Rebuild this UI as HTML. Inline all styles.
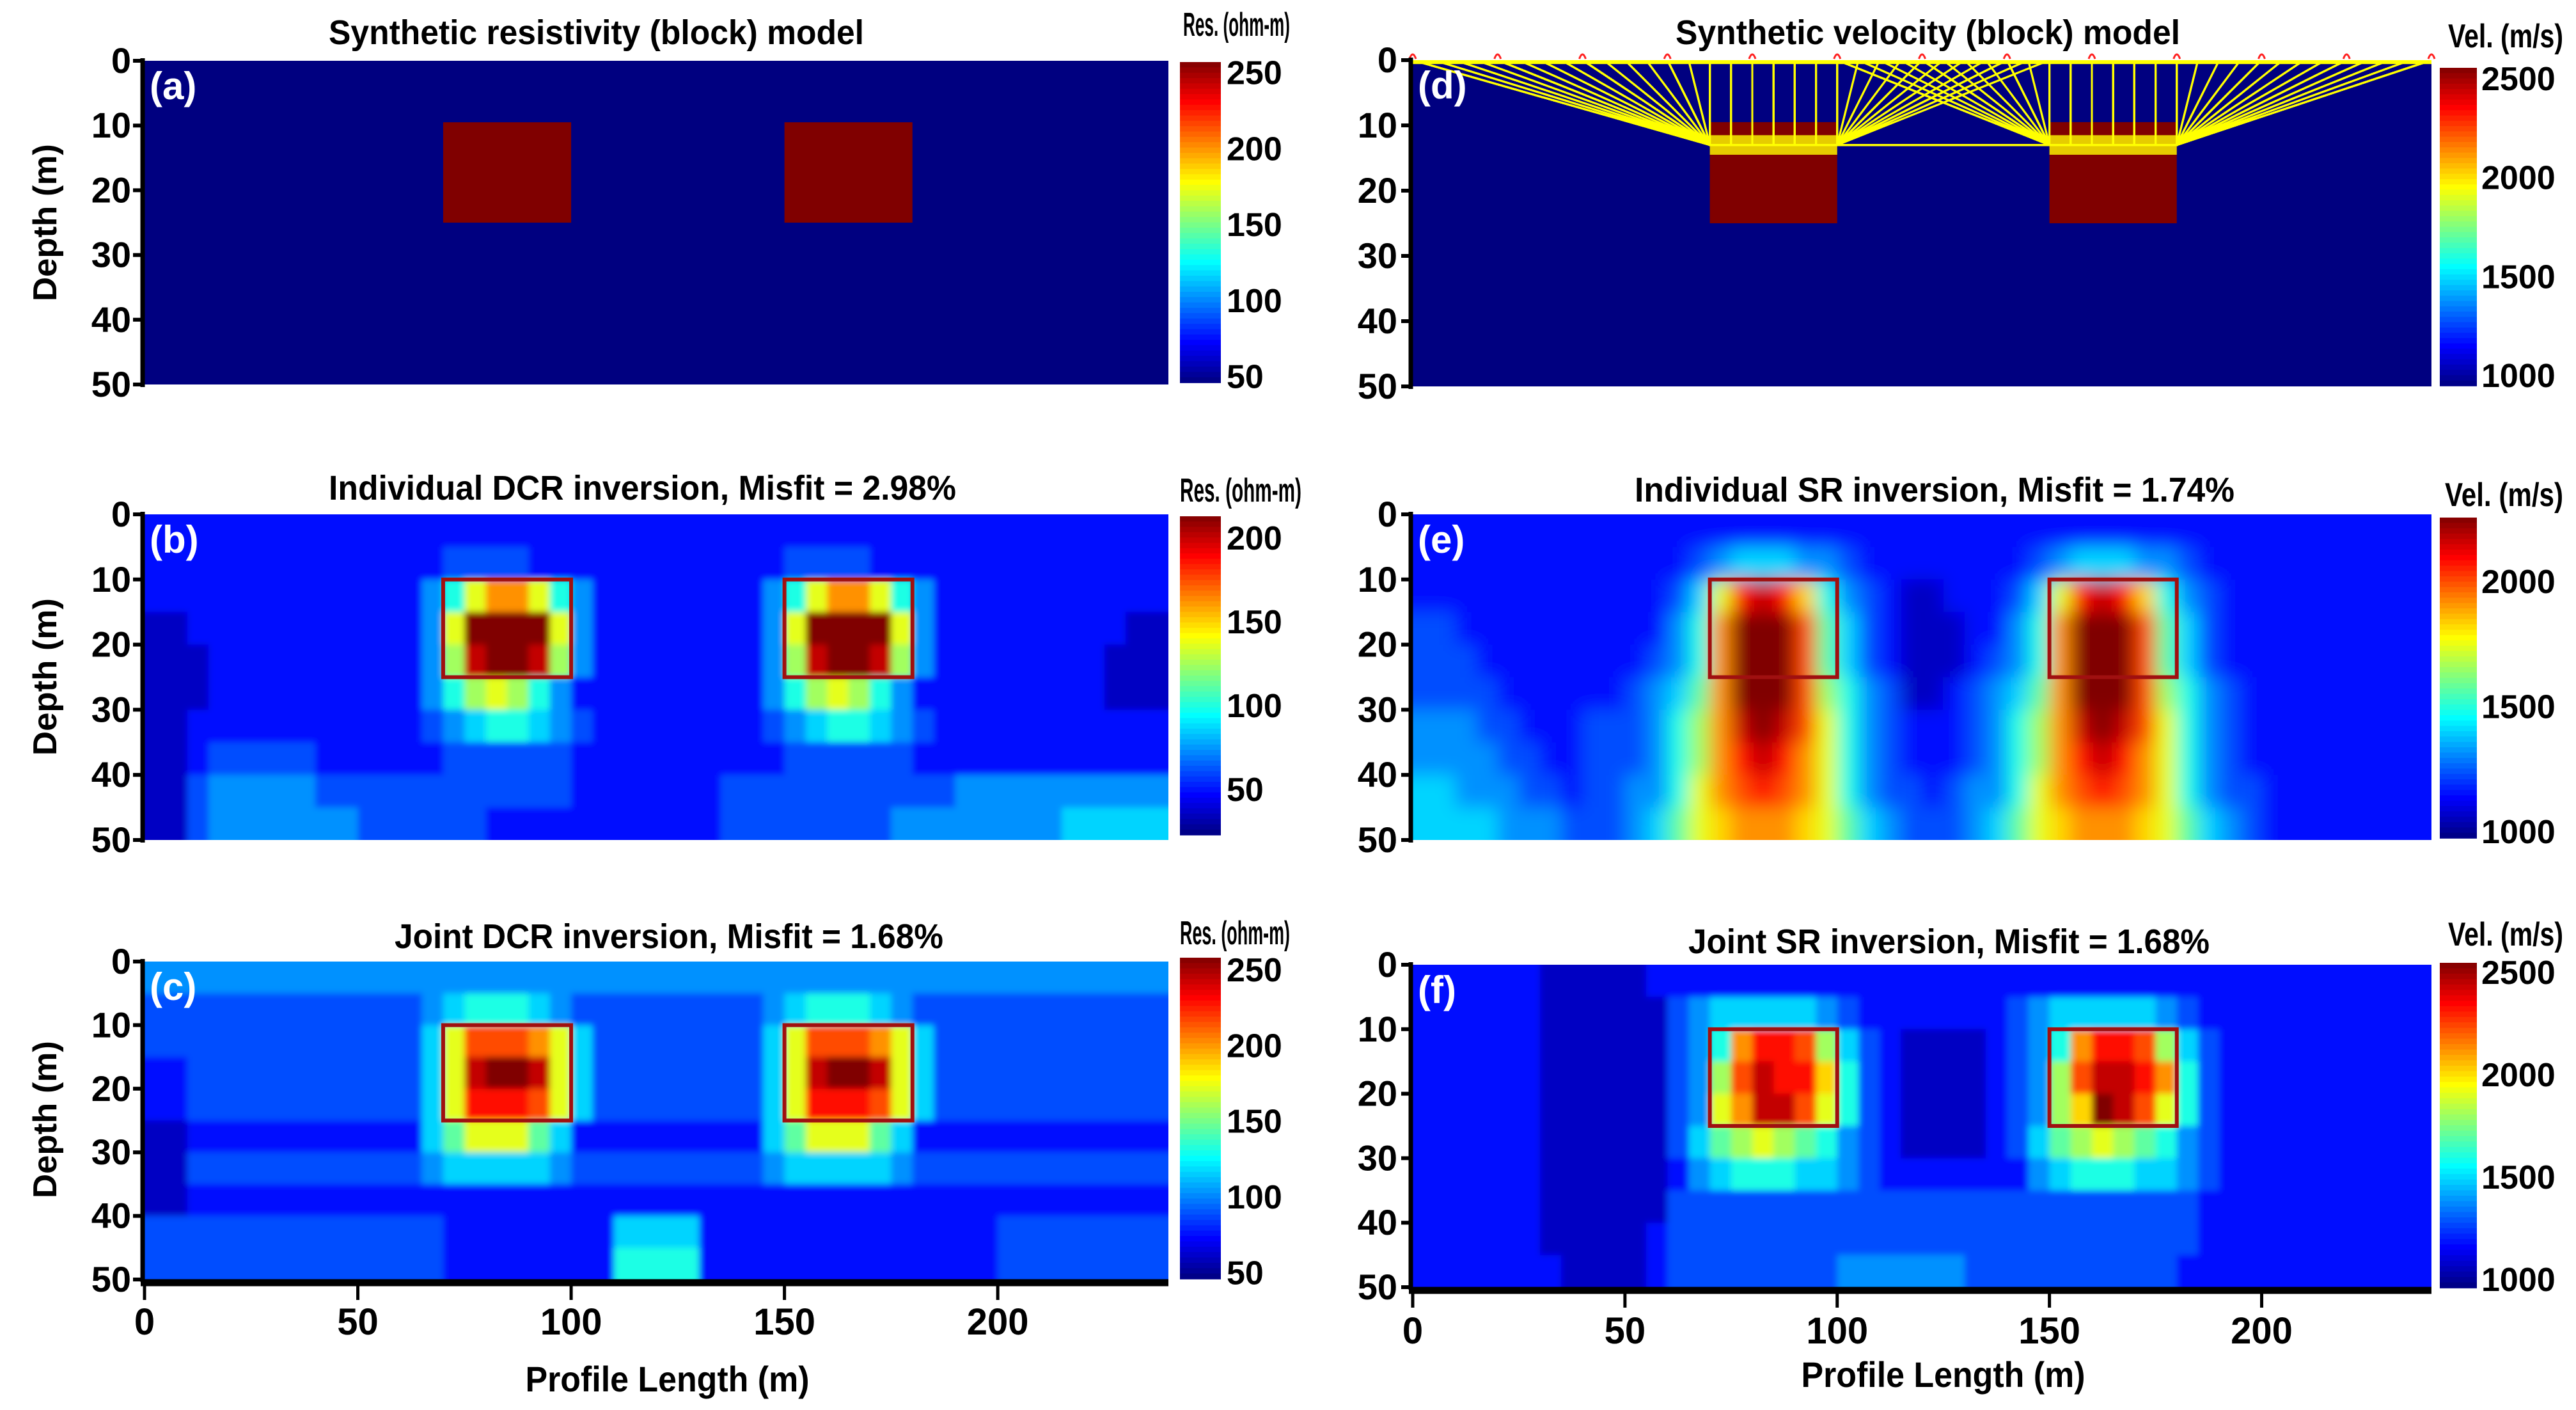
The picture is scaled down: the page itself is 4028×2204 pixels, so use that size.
<!DOCTYPE html>
<html><head><meta charset="utf-8"><style>
html,body{margin:0;padding:0;background:#fff;}
svg{display:block;}
text{font-family:"Liberation Sans Narrow","Liberation Sans",sans-serif;font-weight:bold;}
</style></head><body>
<svg id="fig" xmlns="http://www.w3.org/2000/svg" width="4028" height="2204" viewBox="0 0 4028 2204"></svg>
<script>
// ---------- DATA ----------
const depthTicks=[0,10,20,30,40,50];
const xTicks=[0,50,100,150,200];
const xMax=240, depthMax=50;
const cellWidthM=5, cellDepthM=5;
const blockXs=[[70,100],[150,180]];
const blockDepth=[10,25];
const sourcesM=[0,20,40,60,80,100,120,140,160,180,200,220,240];
const receiversM=[0,5,10,15,20,25,30,35,40,45,50,55,60,65,70,75,80,85,90,95,100,105,110,115,120,125,130,135,140,145,150,155,160,165,170,175,180,185,190,195,200,205,210,215,220,225,230,235,240];
const resTicksA=[50,100,150,200,250];
const resTicksB=[50,100,150,200];
const resTicksC=[50,100,150,200,250];
const velTicksD=[1000,1500,2000,2500];
const velTicksE=[1000,1500,2000];
const velTicksF=[1000,1500,2000,2500];
// heatmap levels (hex digit 0..f = colour scale fraction), rows of 5 m, cols of 5 m
const rowsB=[
"22222222 22222222 22222222 22222222 22222222 22222222",
"22222222 22222233 33222222 22222233 33222222 22222222",
"22222222 22222469 bb964222 22222469 bb964222 22222222",
"11222222 2222249f fff94222 2222249f fff94222 22222211",
"11122222 2222248e ffe84222 2222248e ffe84222 22222111",
"11122222 22222468 98642222 22222468 98642222 22222111",
"11222222 22222345 66543222 22222345 66543222 22222222",
"11233333 22222233 33332222 22222233 33332222 22222222",
"11344444 33333333 33332222 22233333 33333344 44444444",
"11344444 44333333 22222222 22233333 33344444 44455555"];
const rowsC=[
"44444444 44444444 44444444 44444444 44444444 44444444",
"33333333 33333456 66543333 33333456 66543333 33333333",
"33333333 3333359c ccb95333 3333359c ccb95333 33333333",
"22333333 3333359e ffe95333 3333359e ffe95333 33333333",
"22333333 3333359d ddc95333 3333359d ddc95333 33333333",
"11222222 22222579 99752222 22222579 99752222 22222222",
"11333333 33333455 55543333 33333455 55543333 33333333",
"11222222 22222222 22222222 22222222 22222222 22222222",
"33333333 33333322 22222255 55222222 22222222 33333333",
"33333333 33333322 22222266 66222222 22222222 33333333"];
const rowsE=[
"22222222 22222222 22222222 22222222 22222222 22222222",
"22222222 22222345 55443222 22222345 55443222 22222222",
"22222222 2222359d eda64321 1222359d eda64322 22222222",
"33222222 222246bf ffc75321 112246bf ffc75322 22222222",
"33322222 222346bf ffc75321 112346bf ffc75322 22222222",
"33332222 223457bf ffc86431 123457bf ffc86432 22222222",
"44433222 333468be fec96432 223468be fec96432 22222222",
"44443322 333468bd edb96432 223468bd edb96432 22222222",
"55444332 334469bc dcb96433 234469bc dcb96433 22222222",
"55554443 334579ab bba97543 334579ab bba97543 22222222"];
const rowsF=[
"22222211 11122222 22222222 22222222 22222222 22222222",
"22222211 11113455 55543222 22223455 55543222 22222222",
"22222211 1111346b ddc85321 1112346b ddc85322 22222222",
"22222211 1111348c edda6321 1112348c eedb6322 22222222",
"22222211 1111349b eec96321 1112348a fec96322 22222222",
"22222211 11113578 98764321 11123578 98764322 22222222",
"22222211 11112456 66554322 22222456 66554322 22222222",
"22222211 11113333 33333333 33333333 33333222 22222222",
"22222211 11123333 33333333 33333333 33333222 22222222",
"22222221 11123333 33334444 44333333 33332222 22222222"];

// ---------- LAYOUT ----------
const NS="http://www.w3.org/2000/svg";
const svg=document.getElementById('fig');
function el(tag,attrs,parent){const e=document.createElementNS(NS,tag);for(const k in attrs)e.setAttribute(k,attrs[k]);(parent||svg).appendChild(e);return e;}
function jet(t){const c=v=>Math.max(0,Math.min(1,v));const r=c(1.5-Math.abs(4*t-3)),g=c(1.5-Math.abs(4*t-2)),b=c(1.5-Math.abs(4*t-1));return `rgb(${Math.round(r*255)},${Math.round(g*255)},${Math.round(b*255)})`;}
const defs=el('defs',{});
[['blurS',5],['blurL',14]].forEach(([id,s])=>{
  const f=el('filter',{id:id,x:'-5%',y:'-5%',width:'110%',height:'110%'},defs);
  el('feGaussianBlur',{stdDeviation:s,'edgeMode':'duplicate'},f);
});

const L={x0:226,x1:1827,cb0:1845,cb1:1909,lab:1918,tickR:205,ylab:70};
const R={x0:2209,x1:3802,cb0:3815,cb1:3873,lab:3880,tickR:2185,ylab:null};
const panels=[
 {id:'a',col:L,y0:95,y1:601,cby0:97,cby1:598,cmin:46,cmax:257,ticks:resTicksA,rows:null,
  title:'Synthetic resistivity (block) model',tx:514,tw:837,ty:69,unit:'Res. (ohm-m)',ux:1850,uw:167,uy:56,ylabY:348},
 {id:'b',col:L,y0:804,y1:1313,cby0:807,cby1:1305,cmin:23,cmax:213,ticks:resTicksB,rows:rowsB,blur:'blurS',
  title:'Individual DCR inversion, Misfit = 2.98%',tx:514,tw:981,ty:781,unit:'Res. (ohm-m)',ux:1845,uw:190,uy:784,ylabY:1058},
 {id:'c',col:L,y0:1503,y1:2000,cby0:1497,cby1:1999,cmin:46,cmax:258,ticks:resTicksC,rows:rowsC,blur:'blurS',
  title:'Joint DCR inversion, Misfit = 1.68%',tx:617,tw:858,ty:1482,unit:'Res. (ohm-m)',ux:1845,uw:172,uy:1476,ylabY:1750,xaxis:true,xlabY:2086,xtY:2175},
 {id:'d',col:R,y0:94,y1:604,cby0:106,cby1:603,cmin:948,cmax:2555,ticks:velTicksD,rows:null,rays:true,
  title:'Synthetic velocity (block) model',tx:2620,tw:789,ty:69,unit:'Vel. (m/s)',ux:3828,uw:180,uy:74},
 {id:'e',col:R,y0:804,y1:1313,cby0:809,cby1:1310,cmin:974,cmax:2256,ticks:velTicksE,rows:rowsE,blur:'blurL',
  title:'Individual SR inversion, Misfit = 1.74%',tx:2556,tw:938,ty:784,unit:'Vel. (m/s)',ux:3823,uw:185,uy:791},
 {id:'f',col:R,y0:1508,y1:2012,cby0:1505,cby1:2013,cmin:960,cmax:2547,ticks:velTicksF,rows:rowsF,blur:'blurS',
  title:'Joint SR inversion, Misfit = 1.68%',tx:2640,tw:815,ty:1490,unit:'Vel. (m/s)',ux:3828,uw:180,uy:1478,xaxis:true,xlabY:2100,xtY:2168}
];

panels.forEach(p=>{
  const c=p.col;
  const g=el('g',{});
  
  
  const sx=m=>c.x0+(c.x1-c.x0)*m/xMax;
  const sy=d=>p.y0+(p.y1-p.y0)*d/depthMax;
  const cp=el('clipPath',{id:'clip-'+p.id},defs);
  el('rect',{x:c.x0,y:p.y0,width:c.x1-c.x0,height:p.y1-p.y0},cp);
  const bg=el('rect',{x:c.x0,y:p.y0,width:c.x1-c.x0,height:p.y1-p.y0,fill:jet(0)},g);
  
  
  if(p.rows){
    const clipG=el('g',{'clip-path':`url(#clip-${p.id})`},g);
    const cg=el('g',{filter:`url(#${p.blur})`},clipG);
    
    
    p.rows.forEach((rs,ri)=>{
      const s=rs.replace(/ /g,'');
      for(let ci=0;ci<s.length;ci++){
        const v=parseInt(s[ci],16)/15;
        let x0=sx(ci*cellWidthM),x1=sx((ci+1)*cellWidthM),y0=sy(ri*cellDepthM),y1=sy((ri+1)*cellDepthM);
        if(ci===0)x0-=30; if(ci===s.length-1)x1+=30; if(ri===0)y0-=30; if(ri===p.rows.length-1)y1+=30;
        const r=el('rect',{x:x0,y:y0,width:x1-x0+0.8,height:y1-y0+0.8,fill:jet(v)},cg);
        
        
      }
    });
    blockXs.forEach((b,i)=>{
      const r=el('rect',{x:sx(b[0]),y:sy(blockDepth[0]),width:sx(b[1])-sx(b[0]),height:sy(blockDepth[1])-sy(blockDepth[0]),fill:'none',stroke:'#a01010','stroke-width':6},g);
      
      
    });
  } else {
    blockXs.forEach((b,i)=>{
      const r=el('rect',{x:sx(b[0]),y:sy(blockDepth[0]-0.5),width:sx(b[1])-sx(b[0]),height:sy(blockDepth[1])-sy(blockDepth[0]-0.5),fill:jet(1)},g);
      
      
    });
  }
  if(p.rays){
    const rg=el('g',{stroke:'#ffff00','stroke-width':3,fill:'none','stroke-opacity':0.7,'clip-path':`url(#clip-${p.id})`},g);
    
    
    const rd=13;
    sourcesM.forEach(s=>{
      receiversM.forEach(r=>{
        if(r===s)return;
        const a=Math.min(s,r),b2=Math.max(s,r);
        const bs=blockXs.filter(b=>b[1]>a&&b[0]<b2);
        if(!bs.length)return;
        let xa=Math.max(a,bs[0][0]),xb=Math.min(b2,bs[bs.length-1][1]);
        const pth=el('path',{d:`M${sx(a)},${sy(0)} L${sx(xa)},${sy(rd)} L${sx(xb)},${sy(rd)} L${sx(b2)},${sy(0)}`},rg);
        
        
      });
    });
    const top=el('rect',{x:c.x0,y:sy(0),width:c.x1-c.x0,height:sy(0.6)-sy(0),fill:'#ffff00'},g);
    
    
    blockXs.forEach(b=>{
      const yb=el('rect',{x:sx(b[0]),y:sy(11.5),width:sx(b[1])-sx(b[0]),height:sy(14.5)-sy(11.5),fill:'#ffff00',opacity:0.8},g);
      
      
    });
    sourcesM.forEach(s=>{
      const m=el('path',{d:`M${sx(s)-5},${sy(0)-2} Q${sx(s)},${sy(0)-16} ${sx(s)+5},${sy(0)-2}`,stroke:'#ff2020','stroke-width':3,fill:'none'},g);
      
      
    });
  }
  const lt=el('text',{x:c.x0+8,y:p.y0+60,fill:'#fff','font-size':60},g);
  lt.textContent='('+p.id+')';
  
  
  const ya=el('line',{x1:c.x0-3,y1:p.y0-4,x2:c.x0-3,y2:p.y1+4,stroke:'#000','stroke-width':7},g);
  
  
  depthTicks.forEach(d=>{
    const tk=el('line',{x1:c.x0-18,y1:sy(d),x2:c.x0,y2:sy(d),stroke:'#000','stroke-width':6},g);
    
    
    const tl=el('text',{x:c.tickR,y:sy(d)+19,'text-anchor':'end','font-size':56},g);
    tl.textContent=d;
    
    
  });
  if(c.ylab){
    const yl=el('text',{x:0,y:0,'text-anchor':'middle','font-size':52,'font-family':'"Liberation Sans",sans-serif',textLength:246,lengthAdjust:'spacingAndGlyphs',transform:`translate(${c.ylab+18},${p.ylabY}) rotate(-90)`},g);
    yl.textContent='Depth (m)';
    
    
  }
  const tt=el('text',{x:p.tx,y:p.ty,'font-size':54,textLength:p.tw,lengthAdjust:'spacingAndGlyphs'},g);
  tt.textContent=p.title;
  
  
  const ut=el('text',{x:p.ux,y:p.uy,'font-size':52,textLength:p.uw,lengthAdjust:'spacingAndGlyphs'},g);
  ut.textContent=p.unit;
  
  
  const N=60,h=(p.cby1-p.cby0)/N;
  for(let i=0;i<N;i++){
    const r=el('rect',{x:c.cb0,y:p.cby0+i*h,width:c.cb1-c.cb0,height:h+0.8,fill:jet(1-(i+0.5)/N)},g);
    
    
  }
  p.ticks.forEach(v=>{
    const y=p.cby1-(v-p.cmin)/(p.cmax-p.cmin)*(p.cby1-p.cby0);
    const t=el('text',{x:c.lab,y:y+18,'font-size':52},g);
    t.textContent=v;
    
    
  });
  if(p.xaxis){
    const xa=el('line',{x1:c.x0-6,y1:p.y1+5,x2:c.x1,y2:p.y1+5,stroke:'#000','stroke-width':11},g);
    
    
    xTicks.forEach(m=>{
      const tk=el('line',{x1:sx(m),y1:p.y1+5,x2:sx(m),y2:p.y1+32,stroke:'#000','stroke-width':5},g);
      
      
      const tl=el('text',{x:sx(m),y:p.xlabY,'text-anchor':'middle','font-size':58},g);
      tl.textContent=m;
      
      
    });
    const xl=el('text',{x:(c.x0+c.x1)/2+(c===L?17:33),y:p.xtY,'text-anchor':'middle','font-size':56,textLength:444,lengthAdjust:'spacingAndGlyphs'},g);
    xl.textContent='Profile Length (m)';
    
    
  }
});
</script>
</body></html>
